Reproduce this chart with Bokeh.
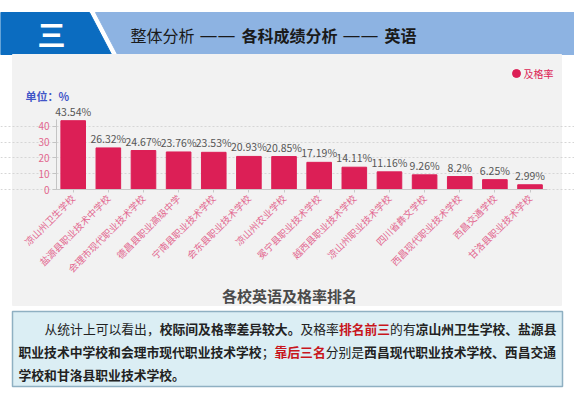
import math
from bokeh.plotting import figure
from bokeh.models import (ColumnDataSource, Range1d, FixedTicker, LabelSet, LinearAxis, Grid)
from bokeh.core.properties import value
from bokeh.embed import file_html
from bokeh.resources import INLINE

# ---------------- data ----------------
schools = ["凉山州卫生学校", "盐源县职业技术中学校", "会理市现代职业技术学校", "德昌县职业高级中学",
           "宁南县职业技术学校", "会东县职业技术学校", "凉山州农业学校", "冕宁县职业技术学校",
           "越西县职业技术学校", "凉山州职业技术学校", "四川省彝文学校", "西昌现代职业技术学校",
           "西昌交通学校", "甘洛县职业技术学校"]
pass_rates = [43.54, 26.32, 24.67, 23.76, 23.53, 20.93, 20.85, 17.19, 14.11, 11.16, 9.26, 8.2, 6.25, 2.99]
y_ticks = [0, 10, 20, 30, 40]
series_name = "及格率"
unit_label = "单位：%"
chart_title = "各校英语及格率排名"
section_no = "三"
header_parts = [("整体分析", "normal"), ("——", "normal"), ("各科成绩分析", "bold"),
                ("——", "normal"), ("英语", "bold")]
summary_lines = [
    [("从统计上可以看出，", "normal", "#222222"), ("校际间及格率差异较大。", "bold", "#222222"),
     ("及格率", "normal", "#222222"), ("排名前三", "bold", "#c8161d"), ("的有", "normal", "#222222"),
     ("凉山州卫生学校、盐源县", "bold", "#222222")],
    [("职业技术中学校和会理市现代职业技术学校", "bold", "#222222"), ("；", "normal", "#222222"),
     ("靠后三名", "bold", "#c8161d"), ("分别是", "normal", "#222222"),
     ("西昌现代职业技术学校、西昌交通", "bold", "#222222")],
    [("学校和甘洛县职业技术学校。", "bold", "#222222")],
]

# ---------------- styles / layout constants ----------------
FONT = value("Noto Sans CJK SC")
FONT_NAME = "Noto Sans CJK SC"
BAR = "#dc1f56"
PINK = "#e2678f"
PANEL = "#f2f2f2"
W, H = 574, 399
BAND_PX = 35.14      # width of one category band in pixels
FIRST_C = 72.7       # pixel x of the first category centre
ZERO_Y = 189         # pixel y of value 0
UNIT_PX = 1.58       # pixels per percentage point
AXIS_X = 56          # pixel x of the value axis line

N = len(schools)
idx = list(range(N))

p = figure(width=W, height=H,
           x_range=Range1d(-FIRST_C / BAND_PX, (W - FIRST_C) / BAND_PX),
           y_range=Range1d(-(H - ZERO_Y) / UNIT_PX, ZERO_Y / UNIT_PX),
           x_axis_type=None, y_axis_type=None, toolbar_location=None, output_backend="svg",
           min_border=0, min_border_left=0, min_border_right=0, min_border_top=0,
           min_border_bottom=0, outline_line_color=None,
           background_fill_color="white", border_fill_color="white")
p.extra_x_ranges = {"px": Range1d(0, W)}
p.extra_y_ranges = {"py": Range1d(H, 0)}
PXR = dict(x_range_name="px", y_range_name="py")


def deco_text(x, y, txt, size, color, style="normal", align="left", font=FONT):
    p.text(x=[x], y=[y], text=[txt], text_font=font, text_font_size=size,
           text_font_style=style, text_color=color, text_align=align,
           text_baseline="middle", **PXR)


# ---------------- background blocks ----------------
r = p.patch([0, 89, 111, 0], [12, 12, 54, 54], color="#0b6cc0", **PXR)
r.level = "image"
r = p.patch([95, W, W, 117], [12, 12, 54, 54], color="#8db3e2", **PXR)
r.level = "image"
r = p.quad(left=[12], right=[561], top=[54], bottom=[305], color=PANEL, **PXR)
r.level = "image"
r = p.quad(left=[12], right=[562], top=[311], bottom=[386], fill_color="#dbeef4",
           line_color="#8fb0c2", line_width=1.5, **PXR)
r.level = "image"

# ---------------- header ----------------
deco_text(51, 33, section_no, "28px", "white", "bold", "center")
hx = 130
for txt, style in header_parts:
    if txt == "——":
        deco_text(hx + 18, 34, txt, "18px", "#1a1a1a", "normal", "center", value("DejaVu Sans"))
        hx += 42
    else:
        deco_text(hx, 34, txt, "16px", "#1a1a1a", style, "left")
        hx += len(txt) * 16 + 5

# ---------------- chart ----------------
src = ColumnDataSource(dict(x=idx, rate=pass_rates, label=[f"{v}%" for v in pass_rates]))
p.vbar(x="x", top="rate", width=0.7, color=BAR, source=src)
p.add_layout(LabelSet(x="x", y="rate", text="label", source=src, y_offset=2,
                      text_align="center", text_baseline="bottom", text_font=FONT,
                      text_font_size="10.5px", text_color="#555555"))

yax = LinearAxis(ticker=FixedTicker(ticks=y_ticks),
                 fixed_location=(AXIS_X - FIRST_C) / BAND_PX, bounds=(0, 44),
                 axis_line_color="#c4c4c4", major_tick_line_color="#c4c4c4",
                 major_tick_out=4, major_tick_in=0, minor_tick_line_color=None,
                 major_label_text_color=PINK, major_label_text_font=FONT_NAME,
                 major_label_text_font_size="10px", major_label_standoff=3)
p.add_layout(yax, "left")

xax = LinearAxis(ticker=FixedTicker(ticks=idx),
                 major_label_overrides={i: s for i, s in enumerate(schools)},
                 fixed_location=0, bounds=(-0.5, N - 0.5),
                 axis_line_color="#c8c8c8", major_tick_line_color="#c8c8c8",
                 major_tick_out=3, major_tick_in=0, minor_tick_line_color=None,
                 major_label_orientation=math.pi / 4, major_label_text_color=PINK,
                 major_label_text_font=FONT_NAME, major_label_text_font_size="9.5px",
                 major_label_standoff=4)
p.add_layout(xax, "below")

p.add_layout(Grid(dimension=1, ticker=yax.ticker, bounds=(-0.5, N - 0.5),
                  grid_line_color="#d6d6d6", grid_line_dash="2 2"), "center")

deco_text(25, 95, unit_label, "11px", "#4155c8", "bold")
p.scatter(x=[516], y=[73], size=8, color=BAR, **PXR)
deco_text(523, 73, series_name, "10px", BAR)
deco_text(289, 295, chart_title, "15px", "#4a4a4a", "bold", "center")

# ---------------- summary text ----------------
cw = 12.8
for ly, lx, segs in zip([328, 351, 374], [44, 18, 18], summary_lines):
    cx = lx
    for txt, style, col in segs:
        deco_text(cx, ly, txt, f"{cw}px", col, style)
        cx += len(txt) * cw

open("out.html", "w").write(file_html(p, INLINE))
